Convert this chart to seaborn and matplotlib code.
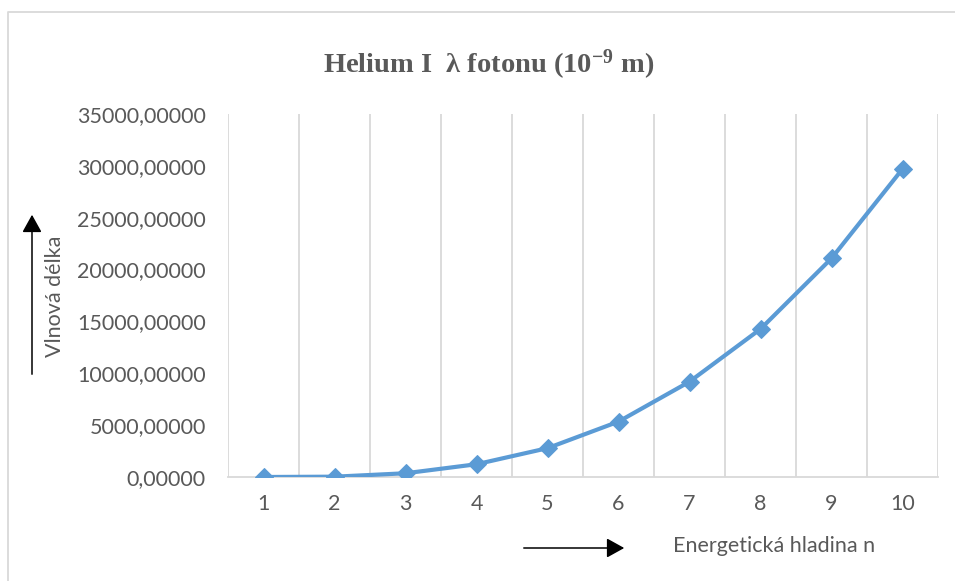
import numpy as np
import pandas as pd
import matplotlib
matplotlib.use("Agg")
import matplotlib.pyplot as plt
from matplotlib.patches import FancyArrowPatch
from matplotlib.lines import Line2D
import seaborn as sns

# ---- data ----
levels = [1, 2, 3, 4, 5, 6, 7, 8, 9, 10]
wavelengths = [0, 30, 360, 1230, 2780, 5340, 9190, 14270, 21080, 29700]
y_ticks = [0, 5000, 10000, 15000, 20000, 25000, 30000, 35000]

title_text = "Helium I  λ fotonu (10$^{-9}$ m)"
ylabel_text = "Vlnová délka"
xlabel_text = "Energetická hladina n"

sns.set_style("white")
plt.rcParams['font.family'] = ['Lato', 'DejaVu Sans']
plt.rcParams['mathtext.fontset'] = 'custom'
plt.rcParams['mathtext.rm'] = 'Liberation Serif:bold'
plt.rcParams['mathtext.it'] = 'Liberation Serif:bold'
plt.rcParams['mathtext.bf'] = 'Liberation Serif:bold'

W, H = 955, 581
fig = plt.figure(figsize=(W / 100, H / 100), dpi=100)
ax = fig.add_axes([228 / W, 1 - 477 / H, (938 - 228) / W, (477 - 114) / H])

df = pd.DataFrame({"n": levels, "lam": wavelengths})
line_color = "#5B9BD5"
sns.lineplot(data=df, x="n", y="lam", ax=ax, color=line_color, linewidth=3.0,
             marker="D", markersize=9, markeredgecolor=line_color, zorder=3)

ax.set_xlim(0.5, 10.5)
ax.set_ylim(0, 35000)
ax.set_yticks(y_ticks)
ax.set_yticklabels([f"{v:.5f}".replace(".", ",") for v in y_ticks])
ax.set_xticks(levels)
ax.set_xticklabels([str(v) for v in levels])
ax.tick_params(axis="both", length=0, labelsize=15.5, labelcolor="#595959")
ax.tick_params(axis="y", pad=16)
ax.tick_params(axis="x", pad=12)
ax.set_xlabel("")
ax.set_ylabel("")

for s in ["top", "right", "left"]:
    ax.spines[s].set_visible(False)
ax.spines["bottom"].set_color("#D9D9D9")
ax.spines["bottom"].set_linewidth(1.3)

grid_color = "#D9D9D9"
for b in np.arange(0.5, 11.0, 1.0):
    ax.axvline(b, color=grid_color, linewidth=1.3, zorder=1)

# title
fig.text(489 / W, 1 - 65 / H, title_text, ha="center", va="center",
         fontsize=20.5, fontweight="bold", family="Liberation Serif", color="#595959")

# y label + arrow
fig.text(55 / W, 1 - 296 / H, ylabel_text, rotation=90, ha="center", va="center",
         fontsize=15.5, color="#595959")
fig.add_artist(FancyArrowPatch((32 / W, 1 - 377 / H), (32 / W, 1 - 212 / H),
                               transform=fig.transFigure, arrowstyle="-|>,head_length=0.9,head_width=0.5",
                               mutation_scale=12, color="black", linewidth=1.1))

# x label + arrow
fig.text(774 / W, 1 - 546 / H, xlabel_text, ha="center", va="center",
         fontsize=15.5, color="#595959")
fig.add_artist(FancyArrowPatch((521 / W, 1 - 548 / H), (627 / W, 1 - 548 / H),
                               transform=fig.transFigure, arrowstyle="-|>,head_length=0.9,head_width=0.5",
                               mutation_scale=12, color="black", linewidth=1.1))

# outer chart border (top and left visible)
fig.add_artist(Line2D([8 / W, 8 / W, 1.0], [0.0, 1 - 12 / H, 1 - 12 / H],
                      transform=fig.transFigure, color="#D9D9D9", linewidth=1.3))

fig.savefig("out.png", dpi=100)
